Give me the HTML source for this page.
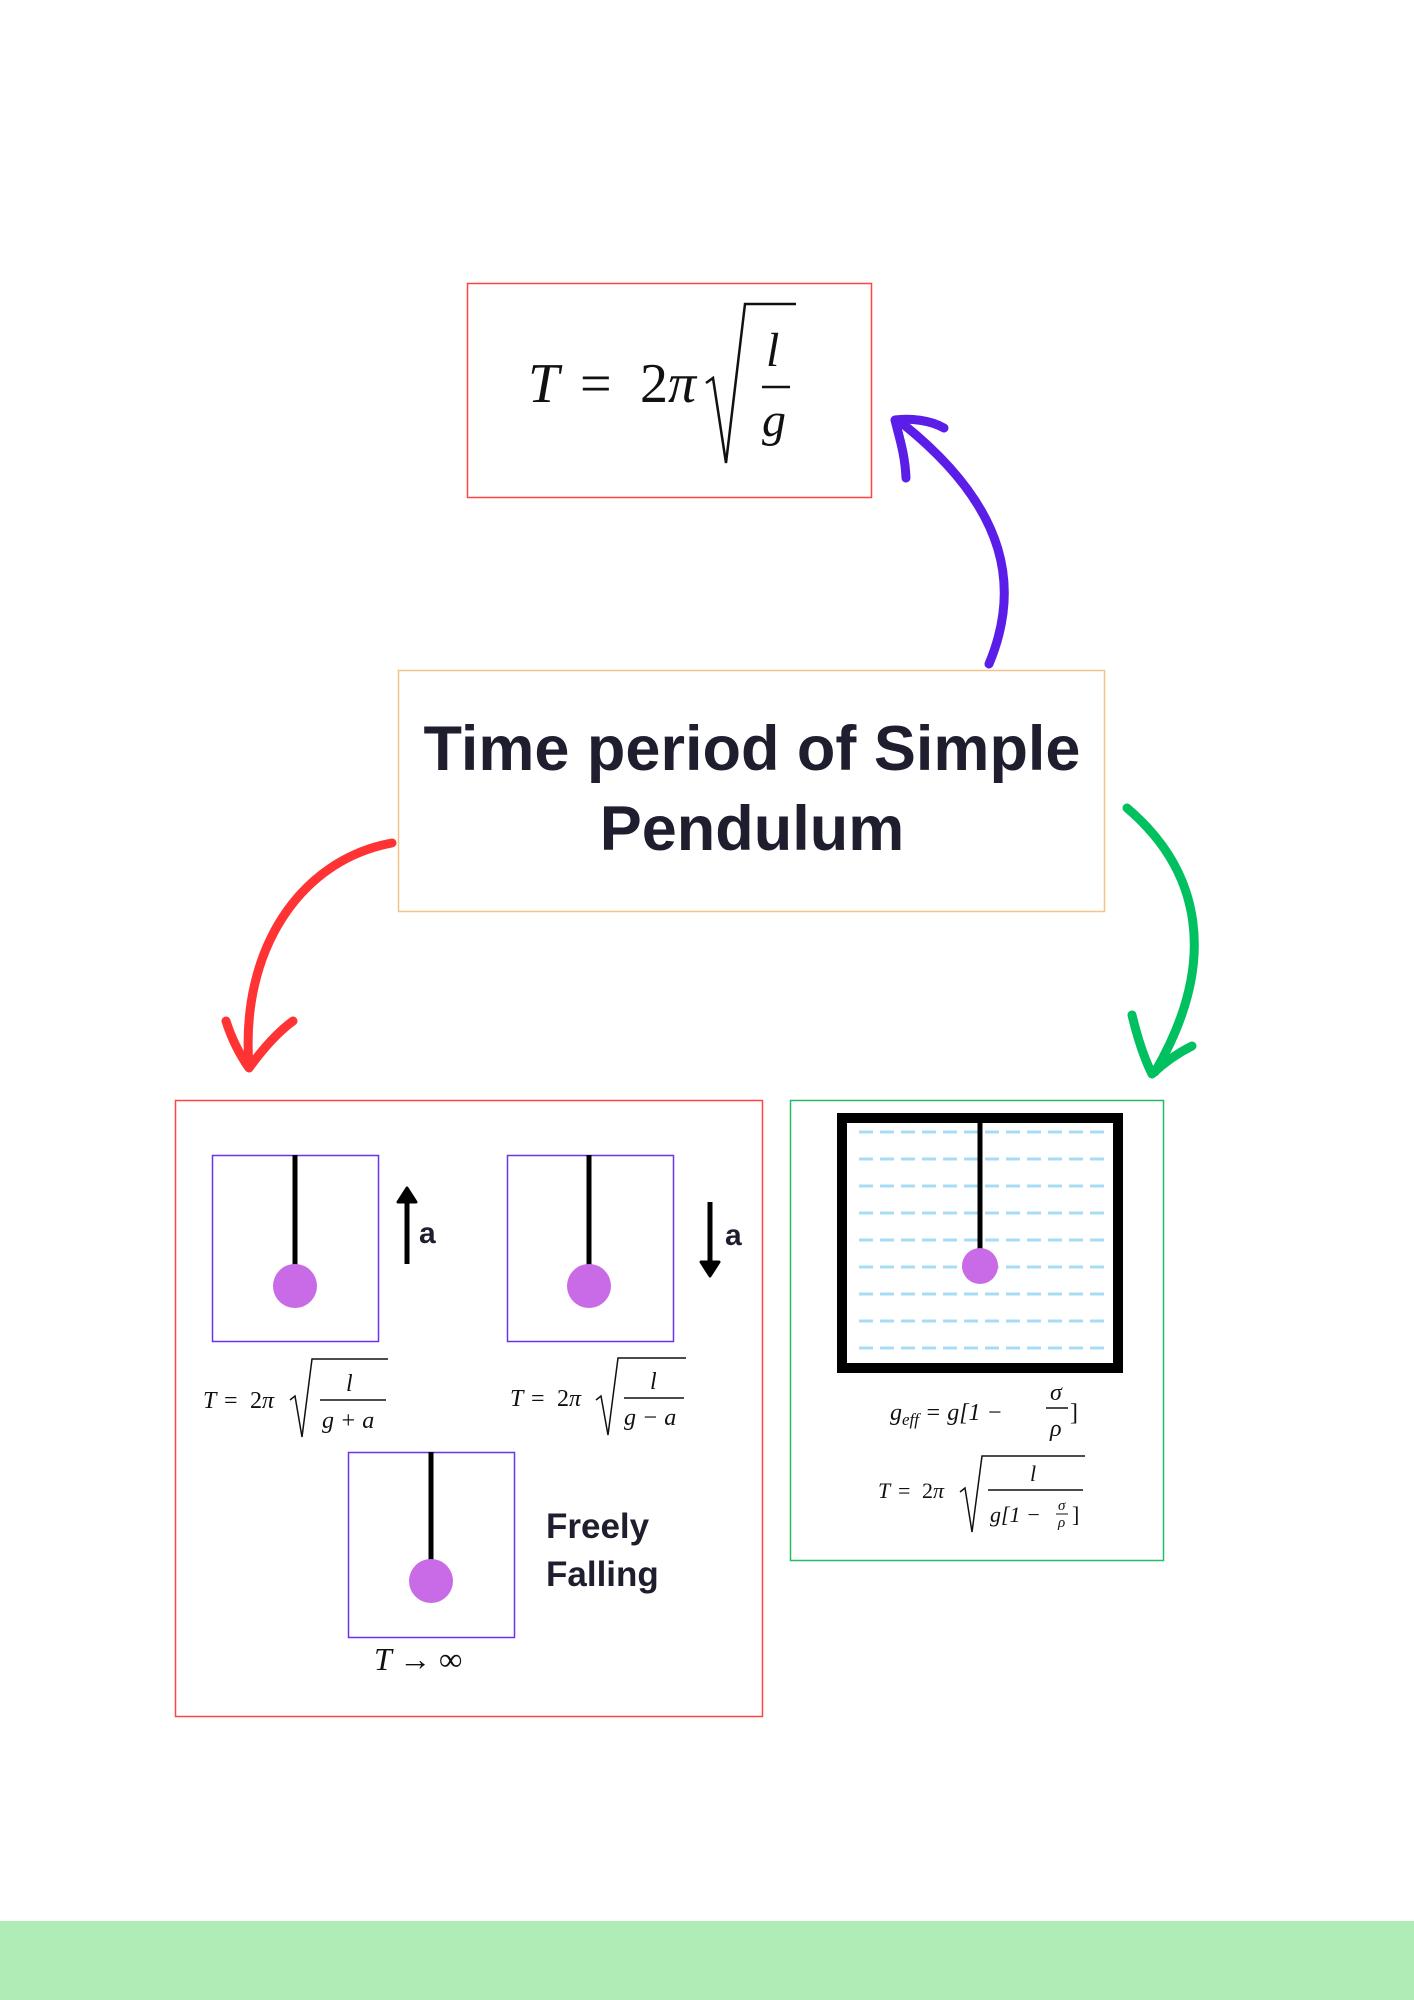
<!DOCTYPE html>
<html><head><meta charset="utf-8"><style>
html,body{margin:0;padding:0;background:#fff;}
svg{display:block;}
.m{font-family:"Liberation Serif",serif;font-style:italic;fill:#111;}
.r{font-family:"Liberation Serif",serif;fill:#111;}
.h{font-family:"Liberation Sans",sans-serif;font-weight:bold;fill:#1e1e2e;}
</style></head><body>
<svg width="1414" height="2000" viewBox="0 0 1414 2000" xmlns="http://www.w3.org/2000/svg">
<rect x="0" y="0" width="1414" height="2000" fill="#fff"/>
<rect x="0" y="1921" width="1414" height="79" fill="#b0ecb5"/>

<rect x="467.5" y="283.5" width="404" height="214" fill="none" stroke="#ff4444" stroke-width="1.5"/>
<text x="528" y="402" class="m" font-size="56">T</text>
<text x="580" y="402" class="r" font-size="56">=</text>
<text x="640" y="402" class="r" font-size="56">2<tspan class="m">π</tspan></text>
<path d="M706,383 L713,378 L726,463 L745,304 L796,304" fill="none" stroke="#111" stroke-width="2.5"/>
<text x="766" y="366" class="m" font-size="48">l</text>
<line x1="762" y1="387" x2="790" y2="387" stroke="#111" stroke-width="2.5"/>
<text x="762" y="436" class="m" font-size="48">g</text>

<rect x="398.5" y="670.5" width="706" height="241" fill="none" stroke="#f2c48a" stroke-width="1.5"/>
<text x="752" y="770" text-anchor="middle" class="h" font-size="63">Time period of Simple</text>
<text x="752" y="850" text-anchor="middle" class="h" font-size="63">Pendulum</text>

<g fill="none" stroke-linecap="round" stroke-linejoin="round">
<path d="M989,664 C1020,590 1010,510 903,424" stroke="#5b1ee8" stroke-width="9"/>
<path d="M906,478 C905,455 900,440 895,420 C910,418 930,420 944,428" stroke="#5b1ee8" stroke-width="9"/>
<path d="M392,843 C300,860 240,950 249,1066" stroke="#ff3333" stroke-width="9"/>
<path d="M226,1021 C232,1040 240,1055 249,1068 C262,1050 278,1032 293,1021" stroke="#ff3333" stroke-width="9"/>
<path d="M1127,808 C1200,870 1220,960 1155,1072" stroke="#00c060" stroke-width="9"/>
<path d="M1132,1015 C1138,1040 1145,1060 1152,1074 C1165,1062 1180,1052 1192,1046" stroke="#00c060" stroke-width="9"/>
</g>

<rect x="175.5" y="1100.5" width="587" height="616" fill="none" stroke="#ff4444" stroke-width="1.5"/>
<rect x="212.5" y="1155.5" width="166" height="186" fill="none" stroke="#6a33ee" stroke-width="1.5"/>
<line x1="295" y1="1155" x2="295" y2="1270" stroke="#000" stroke-width="5"/>
<circle cx="295" cy="1286" r="22" fill="#c96be6"/>
<line x1="407" y1="1200" x2="407" y2="1264" stroke="#000" stroke-width="5"/>
<path d="M398,1202 L407,1188 L416,1202 Z" fill="#000" stroke="#000" stroke-width="3" stroke-linejoin="round"/>
<text x="419" y="1243" class="h" font-size="30">a</text>
<rect x="507.5" y="1155.5" width="166" height="186" fill="none" stroke="#6a33ee" stroke-width="1.5"/>
<line x1="589" y1="1155" x2="589" y2="1270" stroke="#000" stroke-width="5"/>
<circle cx="589" cy="1286" r="22" fill="#c96be6"/>
<line x1="710" y1="1202" x2="710" y2="1264" stroke="#000" stroke-width="5"/>
<path d="M701,1262 L710,1276 L719,1262 Z" fill="#000" stroke="#000" stroke-width="3" stroke-linejoin="round"/>
<text x="725" y="1245" class="h" font-size="30">a</text>
<g font-size="24">
<text x="203" y="1408" class="m">T</text><text x="224" y="1408" class="r">=</text><text x="250" y="1408" class="r">2<tspan class="m">π</tspan></text>
<path d="M290,1400 L295,1396 L302,1437 L312,1359 L388,1359" fill="none" stroke="#111" stroke-width="1.5"/>
<text x="346" y="1391" class="m">l</text>
<line x1="320" y1="1400" x2="386" y2="1400" stroke="#111" stroke-width="1.5"/>
<text x="322" y="1428" class="m">g <tspan class="r">+</tspan> a</text>
</g>
<g font-size="24">
<text x="510" y="1406" class="m">T</text><text x="531" y="1406" class="r">=</text><text x="557" y="1406" class="r">2<tspan class="m">π</tspan></text>
<path d="M596,1400 L601,1396 L608,1435 L618,1358 L686,1358" fill="none" stroke="#111" stroke-width="1.5"/>
<text x="650" y="1389" class="m">l</text>
<line x1="624" y1="1398" x2="684" y2="1398" stroke="#111" stroke-width="1.5"/>
<text x="624" y="1425" class="m">g <tspan class="r">−</tspan> a</text>
</g>
<rect x="348.5" y="1452.5" width="166" height="185" fill="none" stroke="#6a33ee" stroke-width="1.5"/>
<line x1="431" y1="1452" x2="431" y2="1565" stroke="#000" stroke-width="5"/>
<circle cx="431" cy="1581" r="22" fill="#c96be6"/>
<text x="374" y="1670" class="m" font-size="32">T <tspan class="r">→ ∞</tspan></text>
<text x="546" y="1538" class="h" font-size="35">Freely</text>
<text x="546" y="1586" class="h" font-size="35">Falling</text>

<rect x="790.5" y="1100.5" width="373" height="460" fill="none" stroke="#22bb66" stroke-width="1.5"/>
<g stroke="#a8dcf5" stroke-width="3" stroke-dasharray="14,7">
<line x1="859" y1="1132" x2="1105" y2="1132"/>
<line x1="859" y1="1159" x2="1105" y2="1159"/>
<line x1="859" y1="1186" x2="1105" y2="1186"/>
<line x1="859" y1="1213" x2="1105" y2="1213"/>
<line x1="859" y1="1240" x2="1105" y2="1240"/>
<line x1="859" y1="1267" x2="1105" y2="1267"/>
<line x1="859" y1="1294" x2="1105" y2="1294"/>
<line x1="859" y1="1321" x2="1105" y2="1321"/>
<line x1="859" y1="1348" x2="1105" y2="1348"/>
</g>
<rect x="842" y="1118" width="276" height="250" fill="none" stroke="#000" stroke-width="10"/>
<line x1="980" y1="1113" x2="980" y2="1252" stroke="#000" stroke-width="5"/>
<circle cx="980" cy="1266" r="18" fill="#c96be6"/>
<g font-size="24">
<text x="890" y="1420" class="m">g<tspan font-size="17" dy="5">eff</tspan><tspan dy="-5" class="r"> = </tspan>g<tspan class="r">[1 − </tspan></text>
<text x="1050" y="1400" class="m">σ</text>
<line x1="1046" y1="1408" x2="1068" y2="1408" stroke="#111" stroke-width="1.5"/>
<text x="1050" y="1436" class="m">ρ</text>
<text x="1070" y="1420" class="r">]</text>
</g>
<g font-size="22">
<text x="878" y="1498" class="m">T</text><text x="898" y="1498" class="r">=</text><text x="922" y="1498" class="r">2<tspan class="m">π</tspan></text>
<path d="M960,1492 L965,1488 L972,1532 L982,1456 L1085,1456" fill="none" stroke="#111" stroke-width="1.5"/>
<text x="1030" y="1481" class="m">l</text>
<line x1="988" y1="1490" x2="1083" y2="1490" stroke="#111" stroke-width="1.5"/>
<text x="990" y="1522" class="m">g<tspan class="r">[1 − </tspan></text>
<text x="1058" y="1510" class="m" font-size="15">σ</text>
<line x1="1056" y1="1514" x2="1068" y2="1514" stroke="#111" stroke-width="1"/>
<text x="1058" y="1527" class="m" font-size="15">ρ</text>
<text x="1072" y="1522" class="r">]</text>
</g>
</svg>
</body></html>
